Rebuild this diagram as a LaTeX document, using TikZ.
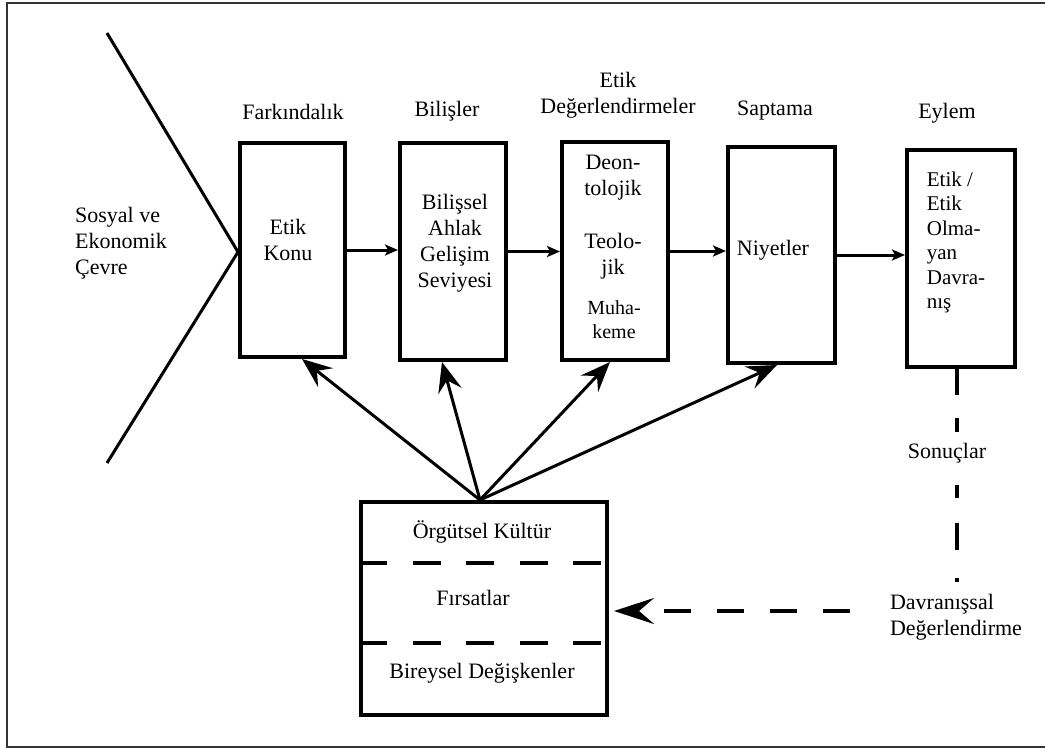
\documentclass[tikz,border=0pt]{standalone}
\usepackage{fontspec}
\setmainfont{LiberationSerif}[Extension=.ttf, UprightFont=*-Regular, BoldFont=*-Bold, ItalicFont=*-Italic, BoldItalicFont=*-BoldItalic]
\usetikzlibrary{arrows.meta,calc}

\tikzset{
  stagebox/.style={draw, line width=4pt, rectangle, inner sep=0pt},
  txt/.style={inner sep=0pt, align=center, font=\fontsize{22}{26}\selectfont},
  txtl/.style={inner sep=0pt, align=left, font=\fontsize{22}{26}\selectfont},
  smalltxt/.style={inner sep=0pt, align=center, font=\fontsize{20}{24}\selectfont},
  flow/.style={line width=3pt, -{Stealth[length=13pt,width=11pt,inset=3pt]}},
  influence/.style={line width=3pt, -{Stealth[length=30pt,width=24pt,inset=11pt]}},
  feedback/.style={line width=4.5pt, dash pattern=on 27pt off 26pt,
    -{Stealth[length=40pt,width=26pt,inset=15pt]}},
  divider/.style={line width=4pt, dash pattern=on 28pt off 25.5pt},
  outcome/.style={line width=4pt},
}

\begin{document}
\begin{tikzpicture}[x=1pt,y=-1pt]
\useasboundingbox (0,0) rectangle (1045,749);

% outer frame
\draw[line width=1.6pt, black!80] (7,3) rectangle (1052,747);

% environment wedge
\coordinate (vtop) at (107,33);
\coordinate (vtip) at (238,252);
\coordinate (vbot) at (107,463);
\draw[line width=3pt] (vtop) -- (vtip) -- (vbot);
\node[txtl] (env) at (121,243) {Sosyal ve\\Ekonomik\\Çevre};

% stage boxes
\node[stagebox, minimum width=105pt, minimum height=214pt] (b1) at (292.5,250) {};
\node[stagebox, minimum width=106pt, minimum height=217pt] (b2) at (453,251.5) {};
\node[stagebox, minimum width=106pt, minimum height=218pt] (b3) at (615,251) {};
\node[stagebox, minimum width=107pt, minimum height=216pt] (b4) at (781.5,255) {};
\node[stagebox, minimum width=108pt, minimum height=217pt] (b5) at (961,258.5) {};

% stage titles
\node[txt] (h1) at (293,112) {Farkındalık};
\node[txt] (h2) at (447,111) {Bilişler};
\node[txt] (h3) at (618,95) {Etik\\Değerlendirmeler};
\node[txt] (h4) at (775,111) {Saptama};
\node[txt] (h5) at (947,113) {Eylem};

% box contents
\node[txt] (t1) at (288,240) {Etik\\Konu};
\node[txt] (t2) at (455,243) {Bilişsel\\Ahlak\\Gelişim\\Seviyesi};
\node[txt] (t3a) at (613,178) {Deon-\\tolojik};
\node[txt] (t3b) at (613,256) {Teolo-\\jik};
\node[smalltxt] (t3c) at (614,320) {Muha-\\keme};
\node[txt] (t4) at (773,250) {Niyetler};
\node[txtl, font=\fontsize{21}{24.5}\selectfont] (t5) at (956,242.5) {Etik /\\Etik\\Olma-\\yan\\Davra-\\nış};

% flow between stages
\draw[flow] (b1.east) -- (b1.east -| b2.west);
\draw[flow] (b2.east) -- (b2.east -| b3.west);
\draw[flow] (b3.east) -- (b3.east -| b4.west);
\draw[flow] (b4.east) -- (b4.east -| b5.west);

% moderating factors box
\node[stagebox, minimum width=246pt, minimum height=213pt] (b6) at (484,608.5) {};
\draw[divider] ([yshift=-63pt]b6.north west) -- ([yshift=-63pt]b6.north east);
\draw[divider] ([yshift=-143pt]b6.north west) -- ([yshift=-143pt]b6.north east);
\node[txt] (f1) at (482,532) {Örgütsel Kültür};
\node[txt] (f2) at (473,598) {Fırsatlar};
\node[txt] (f3) at (482,673) {Bireysel Değişkenler};

% influences on each stage
\coordinate (apex) at (480,500);
\draw[influence] (apex) -- ([xshift=9.5pt]b1.south);
\draw[influence] (apex) -- ([xshift=-11pt]b2.south);
\draw[influence] (apex) -- ([xshift=-5pt]b3.south);
\draw[influence] (apex) -- ([xshift=-4.5pt]b4.south);

% outcomes and feedback
\node[txt] (son) at (947,453) {Sonuçlar};
\node[txtl] (dav) at (956,617) {Davranışsal\\Değerlendirme};
\coordinate (o1) at (957,367);
\coordinate (o2) at (957,442);
\coordinate (o3) at (957,463);
\coordinate (o4) at (957,590);
\draw[outcome, dash pattern=on 28pt off 23pt on 14pt off 20pt] (o1) -- (o2);
\draw[outcome, dash pattern=on 0pt off 22pt on 13pt off 25pt on 27pt off 28pt on 4pt off 20pt] (o3) -- (o4);

\coordinate (fbstart) at (850,611);
\draw[feedback] (fbstart) -- ([xshift=5pt,yshift=-2.5pt]b6.east);
\end{tikzpicture}
\end{document}
